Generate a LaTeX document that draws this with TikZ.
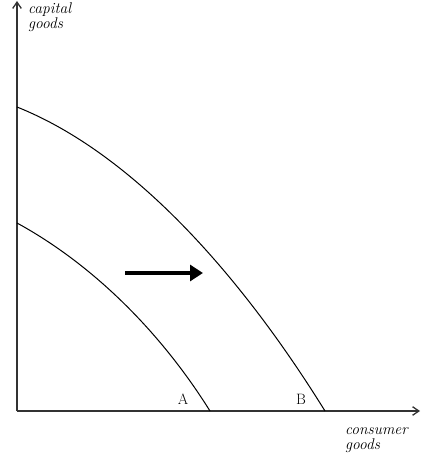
\documentclass[tikz,border=0pt]{standalone}
\usepackage{tikz}
\usetikzlibrary{arrows.meta}

\begin{document}
\begin{tikzpicture}[x=1pt,y=-1pt,
  ax/.style={-{Straight Barb[length=2.2mm,width=3mm]},line width=1.3pt,black!80},
  ppf/.style={line width=1pt},
  shiftarr/.style={-{Triangle[length=4.5mm,width=5.5mm]},line width=4pt},
  lbl/.style={font=\fontsize{15.5}{15}\selectfont\itshape,align=left,inner sep=0pt,anchor=north west},
  pt/.style={font=\fontsize{15}{15}\selectfont,inner sep=0pt}]
  \useasboundingbox (0,0) rectangle (421,462);
  \coordinate (o) at (17,411);
  \coordinate (ytop) at (17,1);
  \coordinate (xend) at (420,411);
  \draw[ax] (o) -- (ytop);
  \draw[ax] (o) -- (xend);
  % the two frontiers
  \coordinate (a0) at (17,223);
  \coordinate (a1) at (210,411);
  \coordinate (b0) at (17,107);
  \coordinate (b1) at (325,411);
  \draw[ppf] (a0) .. controls (92,264) and (160,331) .. (a1);
  \draw[ppf] (b0) .. controls (137,155) and (245,282) .. (b1);
  % shift
  \coordinate (sl) at (125,273);
  \coordinate (sr) at (203,273);
  \draw[shiftarr] (sl) -- (sr);
  \node[pt] (A) at (183,399) {A};
  \node[pt] (B) at (301,399) {B};
  \node[lbl] (cap) at (28,3) {capital\\goods};
  \node[lbl] (con) at (345,427) {consumer\\goods};
\end{tikzpicture}
\end{document}
